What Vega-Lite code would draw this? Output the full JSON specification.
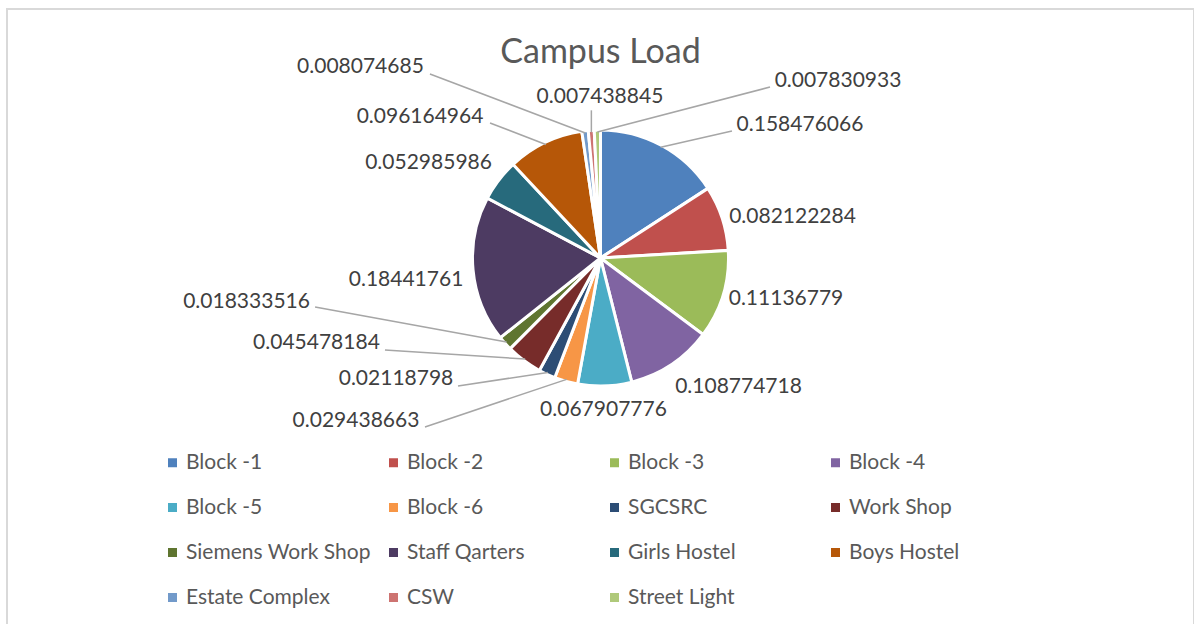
{
  "$schema": "https://vega.github.io/schema/vega-lite/v6.json",
  "width": 1187,
  "height": 642,
  "autosize": "none",
  "padding": {"left": 7, "top": 9, "right": 0, "bottom": 0},
  "background": "#ffffff",
  "title": {"text": "Campus Load", "font": "Lato", "fontSize": 34, "fontWeight": "normal", "color": "#595959", "anchor": "middle", "orient": "top", "offset": 0, "baseline": "alphabetic", "dy": 88},
  "config": {
    "view": {"stroke": "#d9d9d9", "strokeWidth": 2},
    "text": {"font": "Lato", "fontSize": 21, "fill": "#404040", "align": "center", "baseline": "middle"},
    "rule": {"stroke": "#a6a6a6", "strokeWidth": 1.5}
  },
  "data": {"values": [
    {"idx": 1, "name": "Block -1", "value": 0.158476066},
    {"idx": 2, "name": "Block -2", "value": 0.082122284},
    {"idx": 3, "name": "Block -3", "value": 0.11136779},
    {"idx": 4, "name": "Block -4", "value": 0.108774718},
    {"idx": 5, "name": "Block -5", "value": 0.067907776},
    {"idx": 6, "name": "Block -6", "value": 0.029438663},
    {"idx": 7, "name": "SGCSRC", "value": 0.02118798},
    {"idx": 8, "name": "Work Shop", "value": 0.045478184},
    {"idx": 9, "name": "Siemens Work Shop", "value": 0.018333516},
    {"idx": 10, "name": "Staff Qarters", "value": 0.18441761},
    {"idx": 11, "name": "Girls Hostel", "value": 0.052985986},
    {"idx": 12, "name": "Boys Hostel", "value": 0.096164964},
    {"idx": 13, "name": "Estate Complex", "value": 0.008074685},
    {"idx": 14, "name": "CSW", "value": 0.007438845},
    {"idx": 15, "name": "Street Light", "value": 0.007830933}
  ]},
  "transform": [
    {"joinaggregate": [{"op": "sum", "field": "value", "as": "total"}]},
    {"window": [{"op": "sum", "field": "value", "as": "cum"}], "sort": [{"field": "idx"}], "frame": [null, 0]},
    {"calculate": "2 * PI * (datum.cum - datum.value / 2) / datum.total", "as": "mid"},
    {"calculate": "126 * sin(datum.mid)", "as": "ex"},
    {"calculate": "126 * cos(datum.mid)", "as": "ey"}
  ],
  "layer": [
    {
      "mark": {"type": "arc", "outerRadius": 128, "stroke": "#ffffff", "strokeWidth": 3},
      "encoding": {
        "theta": {"field": "value", "type": "quantitative", "stack": true},
        "order": {"field": "idx", "type": "quantitative"},
        "x": {"datum": 0, "type": "quantitative", "scale": {"domain": [-593.5, 593.5], "nice": false, "zero": false}, "axis": null},
        "y": {"datum": 0, "type": "quantitative", "scale": {"domain": [-393, 249], "nice": false, "zero": false}, "axis": null},
        "color": {
          "field": "name", "type": "nominal",
          "scale": {
            "domain": ["Block -1", "Block -2", "Block -3", "Block -4", "Block -5", "Block -6", "SGCSRC", "Work Shop", "Siemens Work Shop", "Staff Qarters", "Girls Hostel", "Boys Hostel", "Estate Complex", "CSW", "Street Light"],
            "range": ["#4f81bd", "#c0504d", "#9bbb59", "#8064a2", "#4bacc6", "#f79646", "#2c4d75", "#772c2a", "#5f7530", "#4d3b62", "#276a7c", "#b65708", "#729aca", "#cd7371", "#afc97a"]
          },
          "legend": {
            "title": null, "orient": "none", "direction": "horizontal", "legendX": 155, "legendY": 443, "columns": 4, "gridAlign": "all",
            "columnPadding": 12, "rowPadding": 23, "padding": 0,
            "symbolType": "square", "symbolSize": 81, "symbolStrokeWidth": 0, "labelOffset": 3,
            "labelFont": "Lato", "labelFontSize": 21, "labelColor": "#595959", "labelLimit": 400
          }
        }
      }
    },
    {"transform": [{"filter": "datum.name === 'Block -1'"}], "mark": {"type": "rule", "x2Offset": 71.3, "y2Offset": -16.3}, "encoding": {"x": {"field": "ex", "type": "quantitative", "scale": {"domain": [-593.5, 593.5], "nice": false, "zero": false}, "axis": null}, "y": {"field": "ey", "type": "quantitative", "scale": {"domain": [-393, 249], "nice": false, "zero": false}, "axis": null}, "x2": {"field": "ex"}, "y2": {"field": "ey"}}},
    {"transform": [{"filter": "datum.name === 'Street Light'"}], "mark": {"type": "rule", "x2Offset": 172.6, "y2Offset": -45}, "encoding": {"x": {"field": "ex", "type": "quantitative", "scale": {"domain": [-593.5, 593.5], "nice": false, "zero": false}, "axis": null}, "y": {"field": "ey", "type": "quantitative", "scale": {"domain": [-393, 249], "nice": false, "zero": false}, "axis": null}, "x2": {"field": "ex"}, "y2": {"field": "ey"}}},
    {"transform": [{"filter": "datum.name === 'Estate Complex'"}], "mark": {"type": "rule", "x2Offset": -155.3, "y2Offset": -58.9}, "encoding": {"x": {"field": "ex", "type": "quantitative", "scale": {"domain": [-593.5, 593.5], "nice": false, "zero": false}, "axis": null}, "y": {"field": "ey", "type": "quantitative", "scale": {"domain": [-393, 249], "nice": false, "zero": false}, "axis": null}, "x2": {"field": "ex"}, "y2": {"field": "ey"}}},
    {"transform": [{"filter": "datum.name === 'CSW'"}], "mark": {"type": "rule", "x2Offset": 0, "y2Offset": -22}, "encoding": {"x": {"field": "ex", "type": "quantitative", "scale": {"domain": [-593.5, 593.5], "nice": false, "zero": false}, "axis": null}, "y": {"field": "ey", "type": "quantitative", "scale": {"domain": [-393, 249], "nice": false, "zero": false}, "axis": null}, "x2": {"field": "ex"}, "y2": {"field": "ey"}}},
    {"transform": [{"filter": "datum.name === 'Boys Hostel'"}], "mark": {"type": "rule", "x2Offset": -55.8, "y2Offset": -21.5}, "encoding": {"x": {"field": "ex", "type": "quantitative", "scale": {"domain": [-593.5, 593.5], "nice": false, "zero": false}, "axis": null}, "y": {"field": "ey", "type": "quantitative", "scale": {"domain": [-393, 249], "nice": false, "zero": false}, "axis": null}, "x2": {"field": "ex"}, "y2": {"field": "ey"}}},
    {"transform": [{"filter": "datum.name === 'Siemens Work Shop'"}], "mark": {"type": "rule", "x2Offset": -191.5, "y2Offset": -35}, "encoding": {"x": {"field": "ex", "type": "quantitative", "scale": {"domain": [-593.5, 593.5], "nice": false, "zero": false}, "axis": null}, "y": {"field": "ey", "type": "quantitative", "scale": {"domain": [-393, 249], "nice": false, "zero": false}, "axis": null}, "x2": {"field": "ex"}, "y2": {"field": "ey"}}},
    {"transform": [{"filter": "datum.name === 'Work Shop'"}], "mark": {"type": "rule", "x2Offset": -140.2, "y2Offset": -9}, "encoding": {"x": {"field": "ex", "type": "quantitative", "scale": {"domain": [-593.5, 593.5], "nice": false, "zero": false}, "axis": null}, "y": {"field": "ey", "type": "quantitative", "scale": {"domain": [-393, 249], "nice": false, "zero": false}, "axis": null}, "x2": {"field": "ex"}, "y2": {"field": "ey"}}},
    {"transform": [{"filter": "datum.name === 'SGCSRC'"}], "mark": {"type": "rule", "x2Offset": -89.8, "y2Offset": 13.5}, "encoding": {"x": {"field": "ex", "type": "quantitative", "scale": {"domain": [-593.5, 593.5], "nice": false, "zero": false}, "axis": null}, "y": {"field": "ey", "type": "quantitative", "scale": {"domain": [-393, 249], "nice": false, "zero": false}, "axis": null}, "x2": {"field": "ex"}, "y2": {"field": "ey"}}},
    {"transform": [{"filter": "datum.name === 'Block -6'"}], "mark": {"type": "rule", "x2Offset": -141.6, "y2Offset": 47.6}, "encoding": {"x": {"field": "ex", "type": "quantitative", "scale": {"domain": [-593.5, 593.5], "nice": false, "zero": false}, "axis": null}, "y": {"field": "ey", "type": "quantitative", "scale": {"domain": [-393, 249], "nice": false, "zero": false}, "axis": null}, "x2": {"field": "ex"}, "y2": {"field": "ey"}}},
    {"transform": [{"filter": "datum.name === 'Block -1'"}], "mark": {"type": "text", "dx": 139.3, "dy": -22.3}, "encoding": {"x": {"field": "ex", "type": "quantitative", "axis": null}, "y": {"field": "ey", "type": "quantitative", "axis": null}, "text": {"field": "value", "type": "quantitative", "format": ".12~g"}}},
    {"transform": [{"filter": "datum.name === 'Block -2'"}], "mark": {"type": "text", "dx": 72.3, "dy": -1.7}, "encoding": {"x": {"field": "ex", "type": "quantitative", "axis": null}, "y": {"field": "ey", "type": "quantitative", "axis": null}, "text": {"field": "value", "type": "quantitative", "format": ".12~g"}}},
    {"transform": [{"filter": "datum.name === 'Block -3'"}], "mark": {"type": "text", "dx": 64.8, "dy": 4.9}, "encoding": {"x": {"field": "ex", "type": "quantitative", "axis": null}, "y": {"field": "ey", "type": "quantitative", "axis": null}, "text": {"field": "value", "type": "quantitative", "format": ".12~g"}}},
    {"transform": [{"filter": "datum.name === 'Block -4'"}], "mark": {"type": "text", "dx": 68.1, "dy": 24.2}, "encoding": {"x": {"field": "ex", "type": "quantitative", "axis": null}, "y": {"field": "ey", "type": "quantitative", "axis": null}, "text": {"field": "value", "type": "quantitative", "format": ".12~g"}}},
    {"transform": [{"filter": "datum.name === 'Block -5'"}], "mark": {"type": "text", "dx": -1.2, "dy": 26.1}, "encoding": {"x": {"field": "ex", "type": "quantitative", "axis": null}, "y": {"field": "ey", "type": "quantitative", "axis": null}, "text": {"field": "value", "type": "quantitative", "format": ".12~g"}}},
    {"transform": [{"filter": "datum.name === 'Block -6'"}], "mark": {"type": "text", "dx": -210.6, "dy": 41.6}, "encoding": {"x": {"field": "ex", "type": "quantitative", "axis": null}, "y": {"field": "ey", "type": "quantitative", "axis": null}, "text": {"field": "value", "type": "quantitative", "format": ".12~g"}}},
    {"transform": [{"filter": "datum.name === 'SGCSRC'"}], "mark": {"type": "text", "dx": -151.8, "dy": 6.5}, "encoding": {"x": {"field": "ex", "type": "quantitative", "axis": null}, "y": {"field": "ey", "type": "quantitative", "axis": null}, "text": {"field": "value", "type": "quantitative", "format": ".12~g"}}},
    {"transform": [{"filter": "datum.name === 'Work Shop'"}], "mark": {"type": "text", "dx": -208.7, "dy": -16}, "encoding": {"x": {"field": "ex", "type": "quantitative", "axis": null}, "y": {"field": "ey", "type": "quantitative", "axis": null}, "text": {"field": "value", "type": "quantitative", "format": ".12~g"}}},
    {"transform": [{"filter": "datum.name === 'Siemens Work Shop'"}], "mark": {"type": "text", "dx": -260, "dy": -40}, "encoding": {"x": {"field": "ex", "type": "quantitative", "axis": null}, "y": {"field": "ey", "type": "quantitative", "axis": null}, "text": {"field": "value", "type": "quantitative", "format": ".12~g"}}},
    {"transform": [{"filter": "datum.name === 'Staff Qarters'"}], "mark": {"type": "text", "dx": -69, "dy": 10.4}, "encoding": {"x": {"field": "ex", "type": "quantitative", "axis": null}, "y": {"field": "ey", "type": "quantitative", "axis": null}, "text": {"field": "value", "type": "quantitative", "format": ".12~g"}}},
    {"transform": [{"filter": "datum.name === 'Girls Hostel'"}], "mark": {"type": "text", "dx": -71.9, "dy": -18.4}, "encoding": {"x": {"field": "ex", "type": "quantitative", "axis": null}, "y": {"field": "ey", "type": "quantitative", "axis": null}, "text": {"field": "value", "type": "quantitative", "format": ".12~g"}}},
    {"transform": [{"filter": "datum.name === 'Boys Hostel'"}], "mark": {"type": "text", "dx": -125.8, "dy": -27.5}, "encoding": {"x": {"field": "ex", "type": "quantitative", "axis": null}, "y": {"field": "ey", "type": "quantitative", "axis": null}, "text": {"field": "value", "type": "quantitative", "format": ".12~g"}}},
    {"transform": [{"filter": "datum.name === 'Estate Complex'"}], "mark": {"type": "text", "dx": -224.8, "dy": -65.9}, "encoding": {"x": {"field": "ex", "type": "quantitative", "axis": null}, "y": {"field": "ey", "type": "quantitative", "axis": null}, "text": {"field": "value", "type": "quantitative", "format": ".12~g"}}},
    {"transform": [{"filter": "datum.name === 'CSW'"}], "mark": {"type": "text", "dx": 8.6, "dy": -35.3}, "encoding": {"x": {"field": "ex", "type": "quantitative", "axis": null}, "y": {"field": "ey", "type": "quantitative", "axis": null}, "text": {"field": "value", "type": "quantitative", "format": ".12~g"}}},
    {"transform": [{"filter": "datum.name === 'Street Light'"}], "mark": {"type": "text", "dx": 240.6, "dy": -51}, "encoding": {"x": {"field": "ex", "type": "quantitative", "axis": null}, "y": {"field": "ey", "type": "quantitative", "axis": null}, "text": {"field": "value", "type": "quantitative", "format": ".12~g"}}}
  ]
}
